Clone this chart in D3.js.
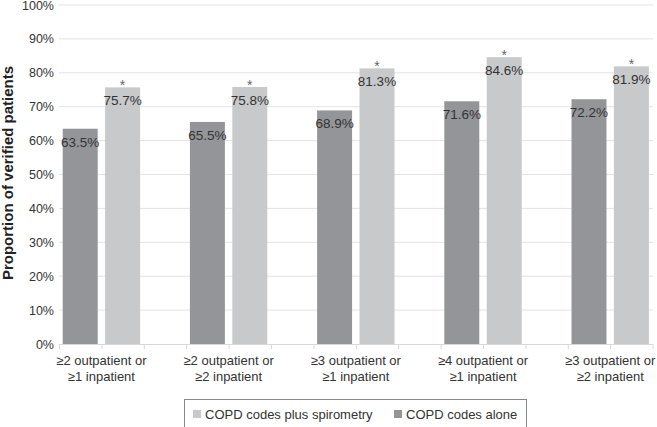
<!DOCTYPE html>
<html><head><meta charset="utf-8">
<script src="https://cdn.jsdelivr.net/npm/d3@7"></script>
<style>body{margin:0;background:#fff}svg{display:block;font-family:"Liberation Sans",Arial,sans-serif}</style>
</head><body>
<svg id="c" width="657" height="427"></svg>
<script>
const categories = [["≥2 outpatient or","≥1 inpatient"],["≥2 outpatient or","≥2 inpatient"],["≥3 outpatient or","≥1 inpatient"],["≥4 outpatient or","≥1 inpatient"],["≥3 outpatient or","≥2 inpatient"]];
const seriesNames = ["COPD codes alone","COPD codes plus spirometry"];
const codesAlone = [63.5, 65.5, 68.9, 71.6, 72.2];
const codesPlusSpiro = [75.7, 75.8, 81.3, 84.6, 81.9];
const significant = [true, true, true, true, true];
const yTicks = [0,10,20,30,40,50,60,70,80,90,100];
const colors = {"COPD codes alone":"#939598","COPD codes plus spirometry":"#c8c9cb"};

(function(){
const svg = d3.select("#c");
const pLeft = 59, pRight = 652.6, pTop = 5, pBottom = 344;
const y = d3.scaleLinear().domain([0,100]).range([pBottom, pTop]);
const x0 = d3.scaleBand().domain(d3.range(categories.length)).range([pLeft, pRight]).paddingInner(1/3).paddingOuter(0);
const x1 = d3.scaleBand().domain(seriesNames).range([0, x0.bandwidth()]).paddingInner(0.175).paddingOuter(0.0875);

// gridlines
svg.append("g").selectAll("line").data(yTicks.filter(d=>d>0)).join("line")
  .attr("x1", pLeft).attr("x2", pRight+0.5).attr("y1", d=>y(d)).attr("y2", d=>y(d))
  .attr("stroke", "#e3e3e3").attr("stroke-width", 1);

// y axis labels
const yAxis = d3.axisLeft(y).tickValues(yTicks).tickFormat(d=>d+"%").tickSize(0).tickPadding(5);
const ga = svg.append("g").attr("transform", `translate(${pLeft},0)`).call(yAxis);
ga.select(".domain").remove();
ga.selectAll("text").attr("font-size", 12.5).attr("fill", "#333").attr("font-family", "Liberation Sans, Arial, sans-serif");

// bars
const data = categories.map((c,i)=>({i, vals:[{s:seriesNames[0], v:codesAlone[i]},{s:seriesNames[1], v:codesPlusSpiro[i], sig:significant[i]}]}));
const g = svg.append("g").selectAll("g").data(data).join("g").attr("transform", d=>`translate(${x0(d.i)},0)`);
g.selectAll("rect").data(d=>d.vals).join("rect")
  .attr("x", d=>x1(d.s)).attr("width", x1.bandwidth())
  .attr("y", d=>y(d.v)).attr("height", d=>y(0)-y(d.v)).attr("fill", d=>colors[d.s]);
g.selectAll("text.val").data(d=>d.vals).join("text").attr("class","val")
  .attr("x", d=>x1(d.s)+x1.bandwidth()/2).attr("y", d=>y(d.v)+18)
  .attr("text-anchor","middle").attr("font-size", 13.5).attr("fill","#333")
  .text(d=>d.v.toFixed(1)+"%");
g.selectAll("text.sig").data(d=>d.vals.filter(v=>v.sig)).join("text").attr("class","sig")
  .attr("x", d=>x1(d.s)+x1.bandwidth()/2).attr("y", d=>y(d.v)+2.5)
  .attr("text-anchor","middle").attr("font-size", 14).attr("fill","#666")
  .text("*");

// x axis line and ticks
const slot = x0.step()/3;
svg.append("line").attr("x1", pLeft).attr("x2", pRight).attr("y1", pBottom+0.5).attr("y2", pBottom+0.5).attr("stroke","#d9d9d9");
svg.append("g").selectAll("line").data(d3.range(15)).join("line")
  .attr("x1", d=>pLeft+d*slot+0.5).attr("x2", d=>pLeft+d*slot+0.5)
  .attr("y1", pBottom).attr("y2", pBottom+5).attr("stroke","#d9d9d9");

// x labels
const xl = svg.append("g").selectAll("text").data(categories).join("text")
  .attr("text-anchor","middle").attr("font-size", 13).attr("fill","#333")
  .attr("transform", (d,i)=>`translate(${x0(i)+x0.bandwidth()/2},0)`);
xl.selectAll("tspan").data(d=>d).join("tspan").attr("x",0).attr("y",(d,j)=>364.5+j*16).text(d=>d);

// y title
svg.append("text").attr("transform","translate(13,173) rotate(-90)").attr("text-anchor","middle")
  .attr("font-size",15).attr("font-weight","bold").attr("fill","#222").text("Proportion of verified patients");

// legend
const lg = svg.append("g");
lg.append("rect").attr("x",184.5).attr("y",399.5).attr("width",342).attr("height",28).attr("fill","#fff").attr("stroke","#888");
const legendItems = [{s:seriesNames[1], x:193},{s:seriesNames[0], x:394}];
const li = lg.selectAll("g").data(legendItems).join("g").attr("transform", d=>`translate(${d.x},0)`);
li.append("rect").attr("x",0).attr("y",410).attr("width",8).attr("height",8).attr("fill",d=>colors[d.s]);
li.append("text").attr("x",12).attr("y",419).attr("font-size",13).attr("fill","#333").text(d=>d.s);
})();
</script>
</body></html>
